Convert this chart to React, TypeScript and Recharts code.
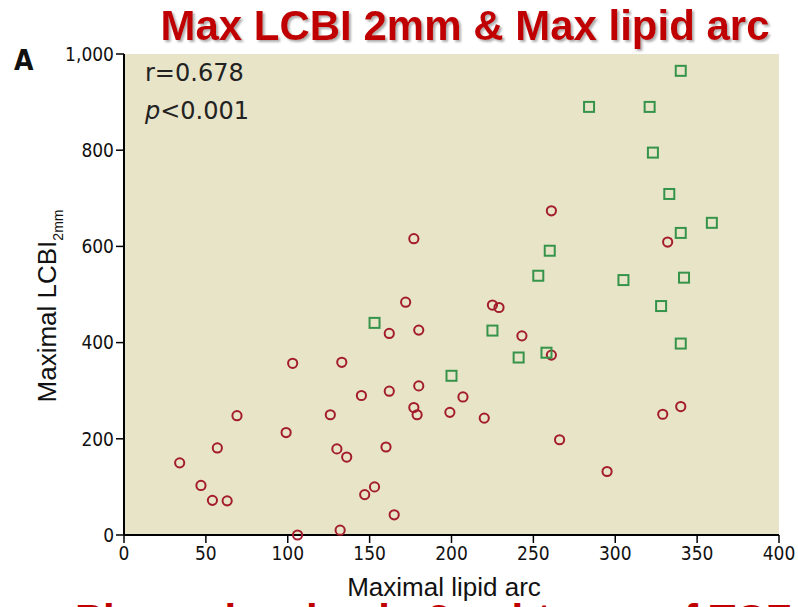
import React from "react";
import {
  ScatterChart,
  Scatter,
  XAxis,
  YAxis,
  ReferenceArea,
} from "recharts";

// lipid arc (x) and LCBI 2mm (y) for the red circles
const circleArc = [
  172, 162, 180, 103, 133, 180, 145, 162, 207, 177, 179, 199, 126, 69, 99, 57,
  130, 136, 160, 34, 47, 54, 63, 153, 147, 165, 132, 106, 177, 225, 229, 243,
  261, 220, 266, 295, 340, 329, 261, 332,
];
const circleLcbi = [
  484, 419, 426, 357, 359, 310, 290, 299, 287, 265, 250, 255, 250, 248, 213, 181,
  179, 162, 183, 150, 103, 72, 71, 100, 84, 42, 10, 0, 616, 478, 473, 414,
  374, 243, 198, 132, 267, 251, 674, 609,
];

// green squares
const squareArc = [
  340, 284, 321, 323, 333, 359, 340, 260, 253, 305, 342, 328, 153, 225, 340,
  258, 241, 200,
];
const squareLcbi = [
  965, 890, 890, 795, 709, 649, 628, 591, 539, 530, 535, 476, 441, 425, 398,
  379, 369, 331,
];

const xTicks = [0, 50, 100, 150, 200, 250, 300, 350, 400];
const yTicks = [0, 200, 400, 600, 800, 1000];

const circleData = circleArc.map((x, i) => ({ x, y: circleLcbi[i] }));
const squareData = squareArc.map((x, i) => ({ x, y: squareLcbi[i] }));

const tickFont = "'DejaVu Sans Condensed', 'DejaVu Sans', sans-serif";

const CircleMark = (props: any) => (
  <circle
    cx={props.cx}
    cy={props.cy}
    r={4.6}
    fill="none"
    stroke="#a31d2c"
    strokeWidth={2}
  />
);

const SquareMark = (props: any) => (
  <rect
    x={props.cx - 5}
    y={props.cy - 5}
    width={10}
    height={10}
    fill="none"
    stroke="#36944a"
    strokeWidth={2}
  />
);

const App = () => {
  return (
    <div
      style={{
        position: "absolute",
        left: 0,
        top: 0,
        width: 798,
        height: 607,
        overflow: "hidden",
        background: "#ffffff",
      }}
    >
      <ScatterChart
        width={798}
        height={607}
        margin={{ top: 54, right: 19, left: 0, bottom: 0 }}
      >
        <ReferenceArea
          x1={0}
          x2={400}
          y1={0}
          y2={1000}
          fill="#e8e4c8"
          fillOpacity={1}
          stroke="none"
        />
        <XAxis
          type="number"
          dataKey="x"
          domain={[0, 400]}
          ticks={xTicks}
          height={72}
          tickSize={8}
          tickMargin={4}
          axisLine={{ stroke: "#000", strokeWidth: 2 }}
          tickLine={{ stroke: "#000", strokeWidth: 1.5 }}
          tick={{ fill: "#111", fontSize: 19, fontFamily: tickFont, fontStretch: "condensed" }}
        />
        <YAxis
          type="number"
          dataKey="y"
          domain={[0, 1000]}
          ticks={yTicks}
          width={124}
          tickSize={8}
          tickMargin={2}
          axisLine={{ stroke: "#000", strokeWidth: 2 }}
          tickLine={{ stroke: "#000", strokeWidth: 1.5 }}
          tick={{ fill: "#111", fontSize: 19, fontFamily: tickFont, fontStretch: "condensed" }}
          tickFormatter={(v: number) => v.toLocaleString("en-US")}
        />
        <Scatter
          data={circleData}
          shape={CircleMark}
          isAnimationActive={false}
        />
        <Scatter
          data={squareData}
          shape={SquareMark}
          isAnimationActive={false}
        />
      </ScatterChart>
      <svg
        width={798}
        height={607}
        style={{ position: "absolute", left: 0, top: 0, pointerEvents: "none" }}
      >
        <defs>
          <filter id="titleShadow" x="-5%" y="-20%" width="110%" height="150%">
            <feDropShadow dx={2} dy={2} stdDeviation={1} floodColor="#777" floodOpacity={0.6} />
          </filter>
        </defs>
        <text
          x={465}
          y={40}
          textAnchor="middle"
          fontFamily="'Liberation Sans', Arial, sans-serif"
          fontWeight="bold"
          fontSize={42}
          fill="#c00000"
          filter="url(#titleShadow)"
        >
          Max LCBI 2mm &amp; Max lipid arc
        </text>
        <text
          x={14}
          y={70}
          fontFamily={tickFont}
          fontStretch="condensed"
          fontWeight="bold"
          fontSize={28}
          fill="#111"
        >
          A
        </text>
        <text
          x={145}
          y={81}
          fontFamily="'DejaVu Sans', sans-serif"
          fontSize={24}
          fill="#222"
        >
          r=0.678
        </text>
        <text
          x={145}
          y={119}
          fontFamily="'DejaVu Sans', sans-serif"
          fontSize={24}
          fill="#222"
        >
          <tspan fontStyle="italic">p</tspan>&lt;0.001
        </text>
        <text
          transform="translate(56, 306) rotate(-90)"
          textAnchor="middle"
          fontFamily="'Liberation Sans', Arial, sans-serif"
          fontSize={26}
          fill="#111"
        >
          Maximal LCBI
          <tspan fontSize={14} dy={7}>
            2mm
          </tspan>
        </text>
        <text
          x={444}
          y={596}
          textAnchor="middle"
          fontFamily="'Liberation Sans', Arial, sans-serif"
          fontSize={26}
          fill="#111"
        >
          Maximal lipid arc
        </text>
        <text
          x={75}
          y={634}
          fontFamily="'Liberation Sans', Arial, sans-serif"
          fontWeight="bold"
          fontSize={42}
          fill="#c00000"
        >
          Plaque burden in 2 subtypes of TCFA
        </text>
      </svg>
    </div>
  );
};

export default App;
